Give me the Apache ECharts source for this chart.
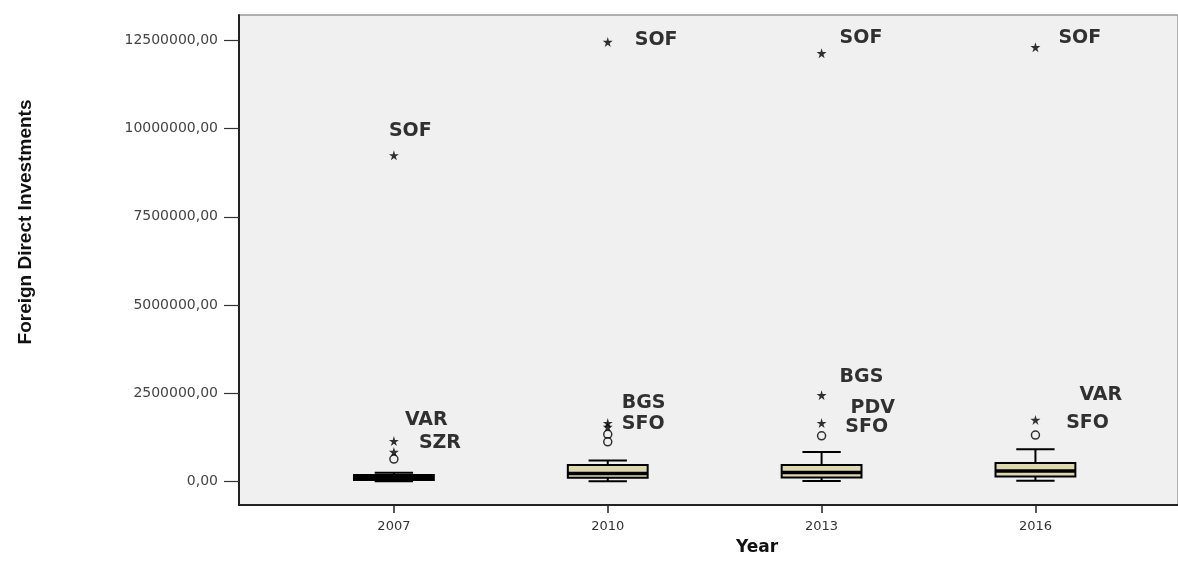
<!DOCTYPE html>
<html><head><meta charset="utf-8">
<script src="https://cdn.jsdelivr.net/npm/echarts@6/dist/echarts.min.js"></script>
<style>html,body{margin:0;padding:0;background:#fff}#c{width:1178px;height:561px}</style>
</head><body><div id="c"></div>
<script>
// ---- data ----
const years = [2007, 2010, 2013, 2016];
const whiskerLow = [15000, 15000, 20000, 25000];
const q1 = [50000, 110000, 120000, 150000];
const median = [110000, 230000, 260000, 300000];
const q3 = [190000, 470000, 470000, 530000];
const whiskerHigh = [250000, 600000, 840000, 920000];
const yTicks = [0, 2500000, 5000000, 7500000, 10000000, 12500000];

// outliers: year, value, kind ('extreme' = star, 'outlier' = circle), label
const outlierYear  = [2007, 2007, 2007, 2007, 2010, 2010, 2010, 2010, 2010, 2013, 2013, 2013, 2013, 2016, 2016, 2016];
const outlierValue = [9240000, 1150000, 840000, 640000, 12450000, 1660000, 1550000, 1340000, 1130000, 12130000, 2450000, 1660000, 1300000, 12300000, 1750000, 1320000];
const outlierKind  = ['extreme','extreme','extreme','outlier','extreme','extreme','extreme','outlier','outlier','extreme','extreme','extreme','outlier','extreme','extreme','outlier'];
const outlierName  = ['SOF','VAR','SZR','','SOF','BGS','SFO','','','SOF','BGS','PDV','SFO','SOF','VAR','SFO'];

// ---- styling (positions of labels relative to their marks) ----
const labelOffsets = {
  '2007SOF': [-10, -24], '2007VAR': [6, -21], '2007SZR': [20, -9],
  '2010SOF': [22, -2], '2010BGS': [9, -20], '2010SFO': [9, -3],
  '2013SOF': [13, -15], '2013BGS': [13, -18], '2013PDV': [24, -15], '2013SFO': [19, -9],
  '2016SOF': [18, -9], '2016VAR': [39, -25], '2016SFO': [26, -12]
};
const STAR = 'path://M50,0 L61,35 L98,35 L68,57 L79,91 L50,70 L21,91 L32,57 L2,35 L39,35 Z';
const boxWidthYears = 1.12;

const boxData = years.map((y, i) => [y, whiskerLow[i], q1[i], median[i], q3[i], whiskerHigh[i]]);
const outlierData = outlierYear.map((y, i) => {
  const name = outlierName[i];
  const extreme = outlierKind[i] === 'extreme';
  const item = {
    value: [y, outlierValue[i]],
    symbol: extreme ? STAR : 'circle',
    symbolSize: extreme ? 10 : 8,
    itemStyle: extreme ? { color: '#000', borderWidth: 0 } : { color: 'rgba(240,240,240,0.6)', borderColor: '#000', borderWidth: 1.5 }
  };
  if (name) {
    item.label = { show: true, formatter: name, position: 'right', distance: 0, color: '#000', fontSize: 19, fontWeight: 'bold', fontFamily: 'DejaVu Sans',
      offset: labelOffsets[y + name] || [8, -10] };
  }
  return item;
});

const fmt = v => v.toFixed(2).replace('.', ',');

const chart = echarts.init(document.getElementById('c'));
chart.setOption({
  animation: false,
  backgroundColor: '#ffffff',
  grid: { left: 239, right: 0, top: 15, bottom: 56, show: true, backgroundColor: '#f0f0f0', borderColor: '#9a9a9a', borderWidth: 1.5 },
  xAxis: {
    type: 'value', min: 2004.827, max: 2018,
    axisLine: { show: true, onZero: false, lineStyle: { color: '#222', width: 2 } },
    axisTick: { show: true, customValues: years, length: 8, lineStyle: { color: '#222', width: 1.5 } },
    axisLabel: { customValues: years, formatter: v => String(v), color: '#333', fontSize: 13, fontFamily: 'DejaVu Sans', margin: 15 },
    splitLine: { show: false }
  },
  yAxis: {
    type: 'value', min: -660000, max: 13213000,
    axisLine: { show: true, onZero: false, lineStyle: { color: '#222', width: 2 } },
    axisTick: { show: true, customValues: yTicks, length: 15, lineStyle: { color: '#333', width: 1.2 } },
    axisLabel: { customValues: yTicks, formatter: fmt, color: '#444', fontSize: 14, fontFamily: 'DejaVu Sans', margin: 21 },
    splitLine: { show: false }
  },
  graphic: [
    { type: 'text', x: 26, y: 222, rotation: Math.PI / 2,
      style: { text: 'Foreign Direct Investments', font: 'bold 19px "Liberation Sans Narrow", "Liberation Sans", sans-serif', align: 'center', verticalAlign: 'middle', fill: '#111' } },
    { type: 'text', x: 757, y: 548,
      style: { text: 'Year', font: 'bold 17px "DejaVu Sans", sans-serif', align: 'center', verticalAlign: 'middle', fill: '#111' } }
  ],
  series: [
    {
      type: 'custom',
      data: boxData,
      encode: { x: 0, y: [1, 2, 3, 4, 5] },
      renderItem: function (params, api) {
        const x = api.value(0);
        const lo = api.coord([x, api.value(1)]);
        const p1 = api.coord([x, api.value(2)]);
        const pm = api.coord([x, api.value(3)]);
        const p3 = api.coord([x, api.value(4)]);
        const hi = api.coord([x, api.value(5)]);
        const half = api.size([boxWidthYears, 0])[0] / 2;
        const cap = half * 0.48;
        const cx = lo[0];
        const ls = { stroke: '#000', lineWidth: 2 };
        return {
          type: 'group',
          children: [
            { type: 'line', shape: { x1: cx, y1: hi[1], x2: cx, y2: p3[1] }, style: ls },
            { type: 'line', shape: { x1: cx, y1: p1[1], x2: cx, y2: lo[1] }, style: ls },
            { type: 'line', shape: { x1: cx - cap, y1: hi[1], x2: cx + cap, y2: hi[1] }, style: ls },
            { type: 'line', shape: { x1: cx - cap, y1: lo[1], x2: cx + cap, y2: lo[1] }, style: ls },
            { type: 'rect', shape: { x: cx - half, y: p3[1], width: half * 2, height: p1[1] - p3[1] }, style: { fill: '#dcd7ae', stroke: '#000', lineWidth: 2 } },
            { type: 'line', shape: { x1: cx - half, y1: pm[1], x2: cx + half, y2: pm[1] }, style: { stroke: '#000', lineWidth: 3.5 } }
          ]
        };
      },
      z: 2
    },
    {
      type: 'scatter',
      data: outlierData,
      label: { color: '#000', fontSize: 19, fontWeight: 'bold', fontFamily: 'DejaVu Sans' },
      z: 3
    }
  ]
});
</script>
</body></html>
